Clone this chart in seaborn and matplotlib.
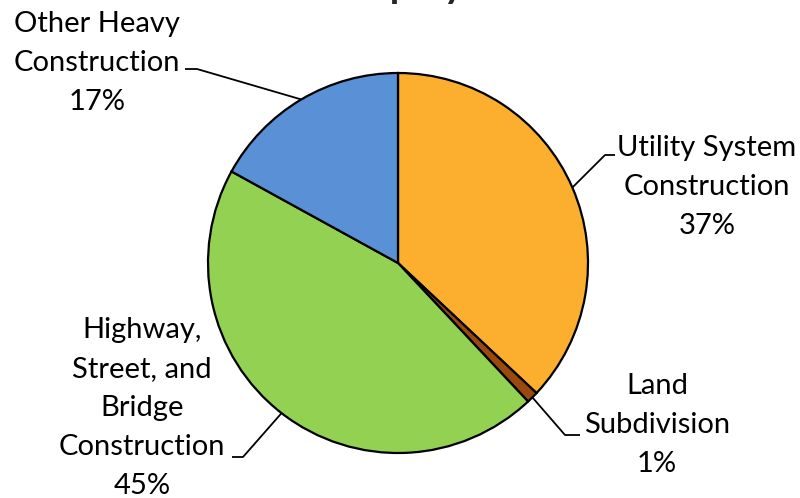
import numpy as np
import matplotlib
matplotlib.use("Agg")
import matplotlib.pyplot as plt
import seaborn as sns

# Employment share by subsector (percent)
categories = ["Utility System\nConstruction", "Land\nSubdivision",
              "Highway,\nStreet, and\nBridge\nConstruction", "Other Heavy\nConstruction"]
shares = [37, 1, 45, 17]
colors = ["#FCAF2E", "#9A4A0C", "#93D152", "#5990D6"]
title = "Employment"

sns.set_theme(style="white")
plt.rcParams["font.family"] = ["Lato", "DejaVu Sans"]

W, H = 800, 498
fig = plt.figure(figsize=(W / 100, H / 100), dpi=100)
ax = fig.add_axes([0, 0, 1, 1])
ax.set_xlim(0, W)
ax.set_ylim(0, H)
ax.set_aspect("equal")
ax.axis("off")

cx, cy, r = 398, H - 263, 190
wedges, _ = ax.pie(shares, colors=colors, startangle=90, counterclock=False,
                   center=(cx, cy), radius=r, frame=True,
                   wedgeprops=dict(edgecolor="black", linewidth=1.6))
ax.set_xlim(0, W)
ax.set_ylim(0, H)
ax.axis("off")

# label text centre (px), elbow point (px), end of short horizontal (px)
label_pos = [(707, 187), (657, 425), (142, 408), (97, 63)]
elbows = [(605, 155), (565, 435), (243, 457), (197, 69)]
tails = [(615, 155), (580, 435), (232, 457), (185, 69)]

for w, cat, val, (tx, ty), (ex, ey), (hx, hy) in zip(
        wedges, categories, shares, label_pos, elbows, tails):
    mid = np.deg2rad((w.theta1 + w.theta2) / 2)
    px, py = cx + r * np.cos(mid), cy + r * np.sin(mid)
    ax.plot([px, ex, hx], [py, H - ey, H - hy], color="black", lw=1.3,
            solid_capstyle="butt", zorder=1)
    ax.text(tx, H - ty, f"{cat}\n{val}%", ha="center", va="center",
            fontsize=21, linespacing=1.62, color="black")

# Title sits above the visible area; only its descenders show
fig.canvas.draw()
renderer = fig.canvas.get_renderer()
probe = fig.text(0, 0, "plo", fontsize=10, fontweight="bold")
w_plo = probe.get_window_extent(renderer).width
probe.remove()
fs = 10 * 54 / w_plo
probe = fig.text(0, 0, "Em", fontsize=fs, fontweight="bold")
w_em = probe.get_window_extent(renderer).width
probe.remove()
em_px = fs * 100 / 72
fig.text((391 - w_em) / W, 1 + (0.22 * em_px - 7) / H, title,
         fontsize=fs, fontweight="bold", ha="left", va="baseline")

fig.savefig("out.png", dpi=100, facecolor="white")
